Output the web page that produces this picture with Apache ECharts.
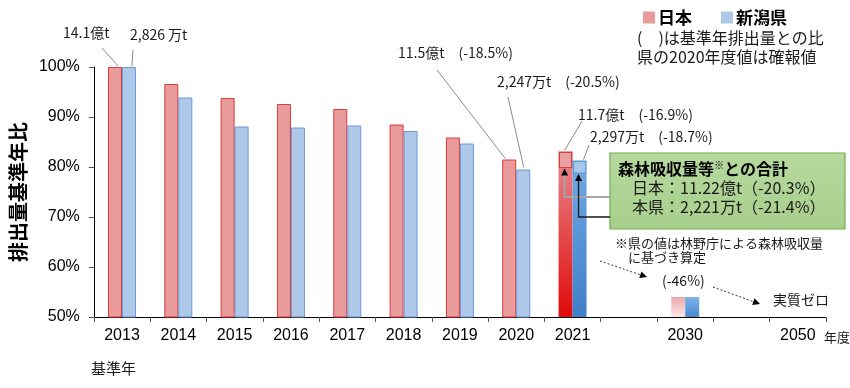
<!DOCTYPE html>
<html><head><meta charset="utf-8">
<script src="https://cdn.jsdelivr.net/npm/echarts@6/dist/echarts.min.js"></script>
<style>html,body{margin:0;padding:0;background:#fff}#c{width:850px;height:388px}</style>
</head><body><div id="c"></div>
<script>
// ---- data ----
const categories = ['2013','2014','2015','2016','2017','2018','2019','2020','2021','','2030','','2050'];
const japanRatio   = [100, 96.6, 93.8, 92.6, 91.6, 88.5, 85.9, 81.5, 83.1, null, 54, null, null];
const niigataRatio = [100, 93.9, 88.1, 87.9, 88.3, 87.2, 84.7, 79.5, 81.3, null, 54, null, null];
const japanWithSink2021 = 79.7;   // 森林吸収量等との合計 (-20.3%)
const niigataWithSink2021 = 78.6; // (-21.4%)
const yMin = 50, yMax = 100, yStep = 10;

const JP = '"Noto Sans CJK JP", sans-serif';
const idx2021 = categories.indexOf('2021');
const idx2030 = categories.indexOf('2030');

function grad(top, bottom) {
  return {type:'linear', x:0, y:0, x2:0, y2:1, colorStops:[{offset:0,color:top},{offset:1,color:bottom}]};
}
function baseData(arr, withSink, g2021, g2030) {
  return arr.map((v, i) => {
    if (i === idx2021) return {value: withSink, itemStyle: {color: g2021, borderWidth: 0}};
    if (i === idx2030) return {value: v, itemStyle: {color: g2030, borderWidth: 0}};
    return v == null ? '-' : v;
  });
}
function topData(arr, withSink) {
  return arr.map((v, i) => i === idx2021 ? +(v - withSink).toFixed(2) : '-');
}

const chart = echarts.init(document.getElementById('c'));
chart.setOption({
  animation: false,
  grid: {left: 87, right: 24, top: 67, bottom: 71},
  legend: {
    data: ['日本', '新潟県'], left: 638, top: 4, itemWidth: 12, itemHeight: 12, itemGap: 29,
    icon: 'rect', itemStyle: {borderWidth: 0},
    textStyle: {fontFamily: JP, fontWeight: 'bold', fontSize: 17, color: '#000', padding: [0,0,0,-2]}
  },
  xAxis: {
    type: 'category', data: categories,
    axisLine: {lineStyle: {color: '#000', width: 1}},
    axisTick: {show: true, interval: 0, length: 5, lineStyle: {color: '#555'}},
    axisLabel: {interval: 0, fontSize: 16, color: '#000', margin: 11, fontFamily: 'Liberation Sans, Arial'}
  },
  yAxis: {
    type: 'value', min: yMin, max: yMax, interval: yStep,
    name: '排出量基準年比', nameLocation: 'middle', nameRotate: 90, nameGap: 58,
    nameTextStyle: {fontFamily: JP, fontWeight: 'bold', fontSize: 20, color: '#000'},
    axisLine: {show: true, lineStyle: {color: '#000', width: 1}},
    axisTick: {show: true, length: 5, lineStyle: {color: '#555'}},
    splitLine: {show: false},
    axisLabel: {formatter: '{value}%', fontSize: 16, color: '#000', margin: 14, fontFamily: 'Liberation Sans, Arial'}
  },
  series: [
    {name: '日本', type: 'bar', stack: 'jp', barWidth: 14, barGap: '0%',
     itemStyle: {color: '#e99a9a', borderColor: '#d83c3c', borderWidth: 1},
     data: baseData(japanRatio, japanWithSink2021, grad('#e67d80', '#e10a0a'), grad('#eba9ab', '#fbe6ea'))},
    {name: '新潟県', type: 'bar', stack: 'nii', barWidth: 14, barGap: '0%',
     itemStyle: {color: '#aec8e8', borderColor: '#6c98d8', borderWidth: 1},
     data: baseData(niigataRatio, niigataWithSink2021, grad('#6ca6e2', '#3f80c8'), grad('#7db3ea', '#4a8ad0'))},
    {name: '日本', type: 'bar', stack: 'jp', barWidth: 14, barGap: '0%',
     itemStyle: {color: '#e9a0a2', borderColor: '#d83c3c', borderWidth: 1.5},
     data: topData(japanRatio, japanWithSink2021)},
    {name: '新潟県', type: 'bar', stack: 'nii', barWidth: 14, barGap: '0%',
     itemStyle: {color: '#a9c7ea', borderColor: '#5b9bd5', borderWidth: 1.5},
     data: topData(niigataRatio, niigataWithSink2021)}
  ]
});

// ---- annotations (positions derived from the axes where they point at bars) ----
const px = (i, v) => chart.convertToPixel({xAxisIndex: 0, yAxisIndex: 0}, [i, v]);
const half = 7;
const redX = i => px(i, yMin)[0] - half;
const bluX = i => px(i, yMin)[0] + half;
const yOf = v => px(0, v)[1];

function txt(x, y, text, size, extra) {
  return Object.assign({type: 'text', x: x, y: y, style: {text: text, font: (size || 14) + 'px ' + JP, fill: '#1a1a1a', textVerticalAlign: 'middle'}}, extra || {});
}
function ln(x1, y1, x2, y2, color, w, dash) {
  return {type: 'line', shape: {x1, y1, x2, y2}, style: {stroke: color || '#8a8a8a', lineWidth: w || 1, lineDash: dash || null}};
}
function arrowHead(x1, y1, x2, y2, len, wid, color) {
  const dx = x2 - x1, dy = y2 - y1, L = Math.hypot(dx, dy), ux = dx / L, uy = dy / L;
  const bx = x2 - ux * len, by = y2 - uy * len;
  return {type: 'polygon', shape: {points: [[x2, y2], [bx - uy * wid / 2, by + ux * wid / 2], [bx + uy * wid / 2, by - ux * wid / 2]]}, style: {fill: color || '#000'}};
}

const i20 = categories.indexOf('2020');
const g = [];
// legend notes
g.push(txt(637, 38, '(　)は基準年排出量との比', 16));
g.push(txt(637, 57, '県の2020年度値は確報値', 16));
// labels with leader lines
g.push(txt(63, 33, '14.1億t', 14));
g.push(ln(102, 48, redX(0) + 3, yOf(japanRatio[0]) - 1));
g.push(txt(130, 35, '2,826 万t', 14));
g.push(ln(133, 50, bluX(0) + 3, yOf(niigataRatio[0]) - 1));
g.push(txt(398, 53, '11.5億t　(-18.5%)', 14));
g.push(ln(437, 70, redX(i20) - 4, yOf(japanRatio[i20]) - 1));
g.push(txt(497, 82, '2,247万t　(-20.5%)', 14));
g.push(ln(508, 97, bluX(i20) + 0.5, yOf(niigataRatio[i20]) - 2));
g.push(txt(578, 115, '11.7億t　(-16.9%)', 14));
g.push(ln(582, 121, redX(idx2021) - 1, yOf(japanRatio[idx2021]) - 1));
g.push(txt(590, 137, '2,297万t　(-18.7%)', 14));
g.push(ln(589, 145, bluX(idx2021) + 4, yOf(niigataRatio[idx2021]) - 1));

// green box
g.push({type: 'rect', shape: {x: 610, y: 153, width: 235, height: 76},
  style: {fill: grad('#b6d99f', '#a7cf8b'), stroke: '#74ad4f', lineWidth: 1.2}});
g.push({type: 'text', x: 618, y: 169, style: {
  text: '{b|森林吸収量等}{s|※}{b|との合計}', textVerticalAlign: 'middle',
  rich: {b: {font: 'bold 16px ' + JP, fill: '#000'}, s: {font: '10px ' + JP, fill: '#000', padding: [0, 0, 8, 0]}}}});
g.push(txt(632, 188, '日本：11.22億t（-20.3%）', 16));
g.push(txt(632, 207, '本県：2,221万t（-21.4%）', 16));

// arrows from box to the 2021 bars
const rx = redX(idx2021) - 1, bx = bluX(idx2021) - 1;
const ry = yOf(japanWithSink2021), by = yOf(niigataWithSink2021);
g.push({type: 'polyline', shape: {points: [[rx, ry + 6], [rx, 197], [610, 197]]}, style: {stroke: '#a6a6a6', lineWidth: 2, fill: null}});
g.push(arrowHead(rx, ry + 10, rx, ry, 7, 7, '#000'));
g.push({type: 'polyline', shape: {points: [[bx, by + 6], [bx, 217], [610, 217]]}, style: {stroke: '#1a1a1a', lineWidth: 1.3, fill: null}});
g.push(arrowHead(bx, by + 10, bx, by, 7, 7, '#000'));

// footnote & targets
g.push(txt(615, 243, '※県の値は林野庁による森林吸収量', 13));
g.push(txt(628, 257, 'に基づき算定', 13));
g.push(txt(662, 281, '(-46%)', 14));
g.push(txt(773, 300, '実質ゼロ', 14));
g.push(ln(600, 261, 641, 275, '#333', 1, [2, 2]));
g.push(arrowHead(600, 261, 647, 277, 7, 7, '#000'));
g.push(ln(713, 287, 754, 302, '#333', 1, [2, 2]));
g.push(arrowHead(713, 287, 760, 304, 7, 7, '#000'));

// axis extras
g.push(txt(824, 337, '年度', 13));
g.push(txt(91, 368, '基準年', 15));

g.forEach(e => { e.z = 100; });
chart.setOption({graphic: {elements: g}});
</script></body></html>
